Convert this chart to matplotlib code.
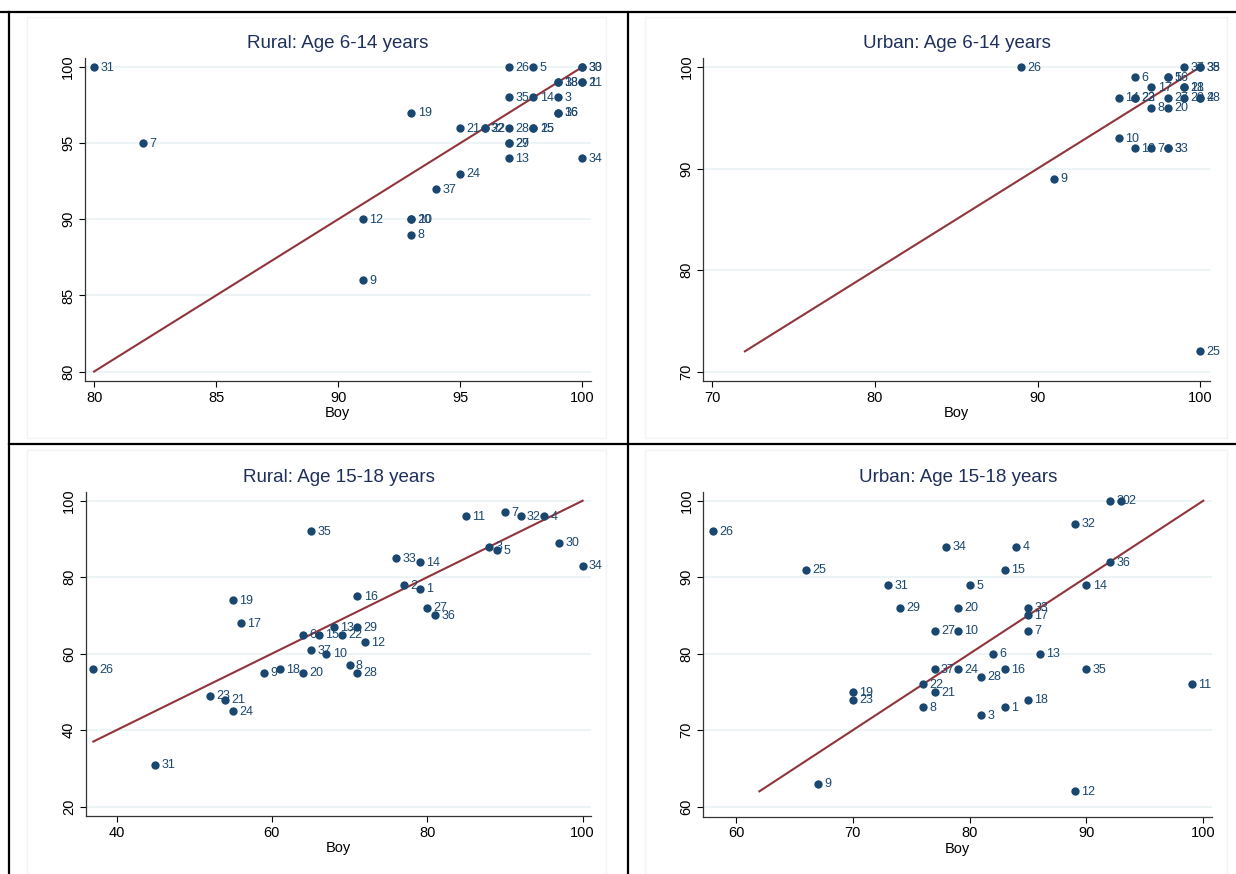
import matplotlib.pyplot as plt
from matplotlib.lines import Line2D
from matplotlib.patches import Rectangle

plt.rcParams['font.family'] = ['Liberation Sans', 'DejaVu Sans']

# ---- data: state id, boy value, girl value ----
# Rural: Age 6-14 years
r1_id = [31, 7, 26, 5, 30, 33, 18, 38, 2, 11, 35, 14, 3, 19, 16, 36, 21, 22, 32,
         28, 15, 25, 27, 29, 13, 34, 24, 37, 12, 10, 20, 8, 9]
r1_boy = [80, 82, 97, 98, 100, 100, 99, 99, 100, 100, 97, 98, 99, 93, 99, 99, 95, 96, 96,
          97, 98, 98, 97, 97, 97, 100, 95, 94, 91, 93, 93, 93, 91]
r1_girl = [100, 95, 100, 100, 100, 100, 99, 99, 99, 99, 98, 98, 98, 97, 97, 97, 96, 96, 96,
           96, 96, 96, 95, 95, 94, 94, 93, 92, 90, 90, 90, 89, 86]

# Urban: Age 6-14 years
u1_id = [26, 37, 35, 38, 6, 5, 16, 17, 18, 21, 14, 22, 23, 27, 29, 4, 28,
         8, 20, 10, 12, 7, 3, 33, 9, 25]
u1_boy = [89, 99, 100, 100, 96, 98, 98, 97, 99, 99, 95, 96, 96, 98, 99, 100, 100,
          97, 98, 95, 96, 97, 98, 98, 91, 100]
u1_girl = [100, 100, 100, 100, 99, 99, 99, 98, 98, 98, 97, 97, 97, 97, 97, 97, 97,
           96, 96, 93, 92, 92, 92, 92, 89, 72]

# Rural: Age 15-18 years
r2_id = [26, 31, 23, 21, 24, 19, 17, 9, 18, 20, 6, 15, 37, 10, 13, 22, 29, 16, 12,
         8, 28, 35, 33, 14, 2, 1, 27, 36, 11, 7, 32, 4, 3, 5, 30, 34]
r2_boy = [37, 45, 52, 54, 55, 55, 56, 59, 61, 64, 64, 66, 65, 67, 68, 69, 71, 71, 72,
          70, 71, 65, 76, 79, 77, 79, 80, 81, 85, 90, 92, 95, 88, 89, 97, 100]
r2_girl = [56, 31, 49, 48, 45, 74, 68, 55, 56, 55, 65, 65, 61, 60, 67, 65, 67, 75, 63,
           57, 55, 92, 85, 84, 78, 77, 72, 70, 96, 97, 96, 96, 88, 87, 89, 83]

# Urban: Age 15-18 years
u2_id = [26, 25, 31, 29, 34, 4, 15, 5, 20, 27, 10, 33, 17, 7, 6, 13, 37, 24, 16, 35,
         28, 22, 21, 19, 23, 8, 3, 1, 18, 9, 12, 32, 14, 36, 30, 2, 11]
u2_boy = [58, 66, 73, 74, 78, 84, 83, 80, 79, 77, 79, 85, 85, 85, 82, 86, 77, 79, 83, 90,
          81, 76, 77, 70, 70, 76, 81, 83, 85, 67, 89, 89, 90, 92, 92, 93, 99]
u2_girl = [96, 91, 89, 86, 94, 94, 91, 89, 86, 83, 83, 86, 85, 83, 80, 80, 78, 78, 78, 78,
           77, 76, 75, 75, 74, 73, 72, 73, 74, 63, 62, 97, 89, 92, 100, 100, 76]

titles = ['Rural: Age 6-14 years', 'Urban: Age 6-14 years',
          'Rural: Age 15-18 years', 'Urban: Age 15-18 years']
line_start = [80, 72, 37, 62]
line_end = [100, 100, 100, 100]
xticks = [[80, 85, 90, 95, 100], [70, 80, 90, 100], [40, 60, 80, 100], [60, 70, 80, 90, 100]]
yticks = [[80, 85, 90, 95, 100], [70, 80, 90, 100], [20, 40, 60, 80, 100], [60, 70, 80, 90, 100]]

navy = '#1a476f'
maroon = '#90353b'

fig = plt.figure(figsize=(12.36, 8.74), dpi=100)

# axes boxes [left, bottom, width, height] in figure fraction
boxes = [[0.0686, 0.5641, 0.4092, 0.3695],
         [0.5691, 0.5641, 0.4097, 0.3695],
         [0.0693, 0.0665, 0.4092, 0.3709],
         [0.5690, 0.0656, 0.4118, 0.3718]]
xlims = [(79.62, 100.34), (69.45, 100.59), (36.02, 101.13), (57.2, 100.77)]
ylims = [(79.38, 100.59), (69.08, 100.89), (17.56, 102.36), (58.69, 101.18)]

data = [(r1_id, r1_boy, r1_girl), (u1_id, u1_boy, u1_girl),
        (r2_id, r2_boy, r2_girl), (u2_id, u2_boy, u2_girl)]

# faint graph-region frames
for rx, ry, rw, rh in [(27, 17, 579, 421), (645, 17, 582, 421),
                       (27, 450, 579, 424), (645, 450, 582, 424)]:
    fig.add_artist(Rectangle((rx / 1236, 1 - (ry + rh) / 874), rw / 1236, rh / 874,
                             transform=fig.transFigure, fill=False,
                             edgecolor='#f1f3f5', linewidth=1))

for i in range(4):
    ax = fig.add_axes(boxes[i])
    ids, boy, girl = data[i]

    ax.plot([line_start[i], line_end[i]], [line_start[i], line_end[i]],
            color=maroon, linewidth=1.5, zorder=3)
    ax.scatter(boy, girl, s=36, color=navy, zorder=4, linewidths=0)
    for k in range(len(ids)):
        ax.annotate(str(ids[k]), (boy[k], girl[k]), xytext=(4.6, -0.5),
                    textcoords='offset points', ha='left', va='center',
                    fontsize=9, color=navy, zorder=5)

    ax.set_xlim(xlims[i])
    ax.set_ylim(ylims[i])
    ax.set_xticks(xticks[i])
    ax.set_yticks(yticks[i])
    ax.set_yticklabels([str(t) for t in yticks[i]], rotation=90, va='center')
    ax.tick_params(direction='out', length=4, width=0.8, labelsize=10.5,
                   colors='black', pad=3)
    ax.grid(axis='y', color='#eaf2f3', linewidth=1.2)
    ax.set_axisbelow(True)
    for side in ['top', 'right']:
        ax.spines[side].set_visible(False)
    for side in ['left', 'bottom']:
        ax.spines[side].set_color('#333333')
        ax.spines[side].set_linewidth(0.9)

    ax.set_title(titles[i], fontsize=13.5, color='#1e2f5a', pad=7)
    ax.set_xlabel('Boy', fontsize=10.5, labelpad=1)

# black frame lines between panels
fig.add_artist(Line2D([0.0, 1.0], [0.9866, 0.9866], color='black', linewidth=1.6,
                      transform=fig.transFigure))
fig.add_artist(Line2D([0.0071, 0.0071], [0.0, 0.9866], color='black', linewidth=1.6,
                      transform=fig.transFigure))
fig.add_artist(Line2D([0.5081, 0.5081], [0.0, 0.9866], color='black', linewidth=1.6,
                      transform=fig.transFigure))
fig.add_artist(Line2D([0.0071, 1.0], [0.4920, 0.4920], color='black', linewidth=1.6,
                      transform=fig.transFigure))

plt.savefig('out.png', dpi=100)
